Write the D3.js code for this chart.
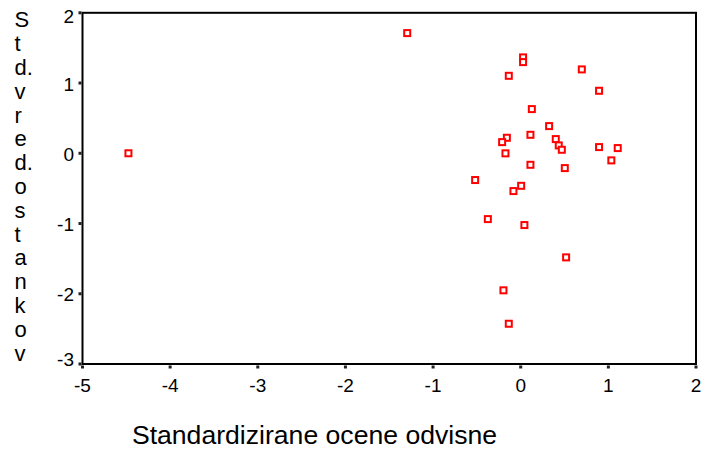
<!DOCTYPE html>
<html>
<head>
<meta charset="utf-8">
<script src="https://cdn.jsdelivr.net/npm/d3@7"></script>
<style>
  html, body { margin: 0; padding: 0; background: #fff; }
  svg { display: block; font-family: "Liberation Sans", Arial, sans-serif; }
</style>
</head>
<body>
<svg id="chart" width="704" height="453"></svg>
<script>
// Standardized predicted values (x) vs standardized residuals (y)
const predicted = [-4.476, -1.295, 0.027, 0.027, -0.136, 0.697, 0.894, 0.127, 0.324, -0.158,
                   -0.212, 0.111, 0.400, 0.434, 0.469, 0.894, 1.107, -0.174, 1.034, 0.111,
                   0.503, -0.520, 0.005, -0.083, -0.375, 0.042, 0.518, -0.197, -0.136];
const residuals = [0.000, 1.711, 1.365, 1.298, 1.103, 1.194, 0.890, 0.629, 0.387, 0.221,
                   0.159, 0.263, 0.202, 0.112, 0.050, 0.088, 0.074, -0.001, -0.101, -0.164,
                   -0.211, -0.381, -0.463, -0.538, -0.937, -1.022, -1.482, -1.951, -2.427];
const xTicks = [-5, -4, -3, -2, -1, 0, 1, 2];
const yTicks = [2, 1, 0, -1, -2, -3];
const xTitle = "Standardizirane ocene odvisne";
const yTitleLines = ["S", "t", "d.", "v", "r", "e", "d.", "o", "s", "t", "a", "n", "k", "o", "v"];

const svg = d3.select("#chart");
const plot = { left: 82.5, right: 696, top: 12.8, bottom: 364 };

const x = d3.scaleLinear().domain([-5, 2]).range([plot.left, plot.right]);
const y = d3.scaleLinear().domain([-3, 2]).range([plot.bottom, plot.top]);

// frame around the plot area
svg.append("rect")
  .attr("x", plot.left).attr("y", plot.top)
  .attr("width", plot.right - plot.left).attr("height", plot.bottom - plot.top)
  .attr("fill", "none").attr("stroke", "#000").attr("stroke-width", 2);

// x ticks: small square markers below the axis line, labels underneath
const gx = svg.append("g");
gx.selectAll("rect").data(xTicks).join("rect")
  .attr("x", d => x(d) - 1.5).attr("y", plot.bottom + 1.5)
  .attr("width", 3).attr("height", 3).attr("fill", "#222");
gx.selectAll("text").data(xTicks).join("text")
  .attr("x", d => x(d)).attr("y", 391.5)
  .attr("text-anchor", "middle")
  .attr("font-size", 19).attr("fill", "#000")
  .text(d => d);

// y ticks: small square markers left of the axis line, right-aligned labels
const gy = svg.append("g");
gy.selectAll("rect").data(yTicks).join("rect")
  .attr("x", plot.left - 4).attr("y", d => y(d) - 1.5)
  .attr("width", 3).attr("height", 3).attr("fill", "#222");
gy.selectAll("text").data(yTicks).join("text")
  .attr("x", 74).attr("y", d => Math.min(365.5, Math.max(23, y(d) + 7.5)))
  .attr("text-anchor", "end")
  .attr("font-size", 19).attr("fill", "#000")
  .text(d => d);

// axis titles
svg.append("text")
  .attr("x", 314.5).attr("y", 444)
  .attr("text-anchor", "middle")
  .attr("font-size", 26.6).attr("fill", "#000")
  .text(xTitle);

svg.append("g").selectAll("text").data(yTitleLines).join("text")
  .attr("x", 14.5).attr("y", (d, i) => 27.3 + i * 23.8)
  .attr("font-size", 22).attr("fill", "#000")
  .text(d => d);

// scatter points: hollow red squares
const pts = predicted.map((v, i) => ({ x: v, y: residuals[i] }));
svg.append("g").selectAll("rect").data(pts).join("rect")
  .attr("x", d => x(d.x) - 3).attr("y", d => y(d.y) - 3)
  .attr("width", 6).attr("height", 6)
  .attr("fill", "#fff").attr("stroke", "#ff0000").attr("stroke-width", 2);
</script>
</body>
</html>
